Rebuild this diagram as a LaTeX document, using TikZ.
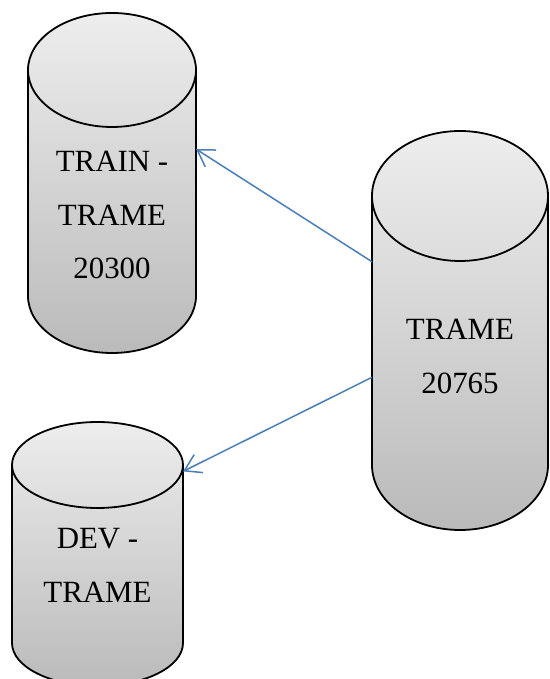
\documentclass[tikz,border=0pt]{standalone}
\usepackage{fontspec}
\setmainfont{Liberation Serif}
\usetikzlibrary{arrows.meta}
\definecolor{linkblue}{HTML}{4A7EBB}
\tikzset{
  canbox/.style={rectangle, inner sep=0pt, outer sep=0pt},
  canfill/.style={top color=black!7, bottom color=black!27},
  canline/.style={draw=black, line width=1.8bp},
  canshadow/.style={fill=black, opacity=0.12},
  canlabel/.style={align=center, font=\fontsize{31}{54}\selectfont},
  link/.style={draw=linkblue, line width=1.5bp, -{Straight Barb[length=16bp, width=20bp]}}
}
\begin{document}
\begin{tikzpicture}[x=1bp, y=1bp]
\useasboundingbox (0,0) rectangle (550,679);
\node[canbox, minimum width=168bp, minimum height=340bp] (train) at (112,496) {};
\node[canbox, minimum width=176bp, minimum height=399bp] (trame) at (460,348.5) {};
\node[canbox, minimum width=171bp, minimum height=264bp] (dev) at (97.5,125) {};
\foreach \can/\rx/\ry in {train/84/57, trame/88/65, dev/85.5/43} {
    \fill[canshadow, shift={(1.5,-2.5)}] ([shift={(0,\ry)}]\can.south west)
        arc[start angle=180, end angle=360, x radius=\rx, y radius=\ry]
        -- ([shift={(0,\ry)}]\can.south east) -- cycle;
    \shade[canfill, canline] ([shift={(0,-\ry)}]\can.north west) -- ([shift={(0,\ry)}]\can.south west)
        arc[start angle=180, end angle=360, x radius=\rx, y radius=\ry]
        -- ([shift={(0,-\ry)}]\can.north east)
        arc[start angle=0, end angle=180, x radius=\rx, y radius=\ry] -- cycle;
    \draw[canline] ([shift={(0,-\ry)}]\can.north west)
        arc[start angle=180, end angle=360, x radius=\rx, y radius=\ry];
}
\node[canlabel] (trainlbl) at ([yshift=-32bp]train.center) {TRAIN -\\TRAME\\20300};
\node[canlabel] (tramelbl) at ([yshift=-26bp]trame.center) {TRAME\\20765};
\node[canlabel] (devlbl) at ([yshift=-11bp]dev.center) {DEV -\\TRAME};
\draw[link] (trame.142) -- (train.22.6);
\draw[link] (trame.208.4) -- (dev.44.5);
\end{tikzpicture}
\end{document}
